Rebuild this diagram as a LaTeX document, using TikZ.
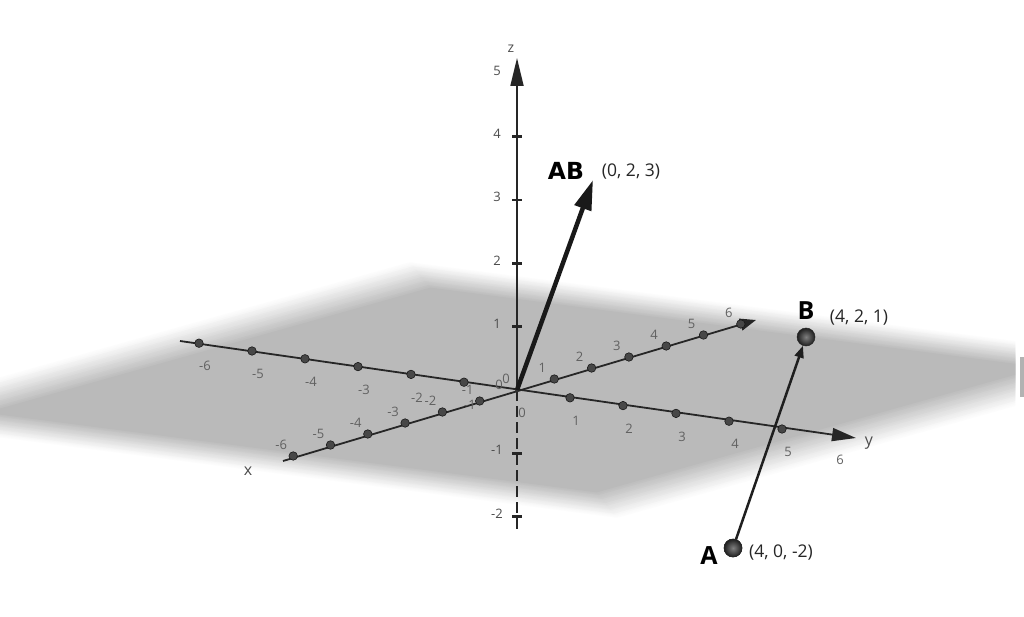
\documentclass[tikz,border=0pt]{standalone}
\usepackage{fontspec}
\setmainfont{Open Sans}
\newfontfamily\djv{DejaVu Sans}
\usetikzlibrary{arrows.meta}
\begin{document}
\begin{tikzpicture}[x=1pt,y=-1pt,
  axisline/.style={line width=1.8pt, black!85},
  tickdot/.style={circle, fill=black!72, draw=black!90, line width=0.6pt, inner sep=0pt, minimum size=8.5pt},
  ticklab/.style={font=\fontsize{13}{13}\selectfont, text=black!62, inner sep=0pt},
  axislab/.style={font=\fontsize{16}{16}\selectfont, text=black!70, inner sep=0pt},
  zticks/.style={line width=2.6pt, black!85},
  ptball/.style={circle, shading=radial, inner color=black!50, outer color=black!88, draw=black!85, line width=0.5pt, inner sep=0pt, minimum size=18pt},
  bigname/.style={font=\fontsize{25}{25}\selectfont\bfseries, inner sep=0pt},
  abname/.style={font=\djv\fontsize{23.5}{23.5}\selectfont\bfseries, inner sep=0pt},
  coordlab/.style={font=\fontsize{17.5}{17.5}\selectfont, text=black!85, inner sep=0pt},
]
\useasboundingbox (0,0) rectangle (1024,617);
\fill[white] (0,0) rectangle (1024,617);

% plane with soft edges
\begin{scope}
  \clip (0,0) rectangle (1015,617);
  \foreach \k in {0,...,19} {
    \pgfmathsetmacro\s{1.11-0.22*\k/19}
    \pgfmathtruncatemacro\c{1+26*\k/19}
    \fill[black!\c, shift={(513.5,390)}, scale=\s]
      (-593.5,25.5) -- (-93.5,-115) -- (593.5,-25.5) -- (93.5,115) -- cycle;
  }
\end{scope}
\fill[black!30] (1020,357) rectangle (1024,397);

% axes
\coordinate (O) at (517,390);
\coordinate (ystart) at (180,341);
\coordinate (yend) at (856,438);
\coordinate (xstart) at (283,461);
\coordinate (xend) at (756,320);
\coordinate (ztop) at (517,58);
\coordinate (zbot) at (517,533);

\draw[axisline, -{Triangle[length=24pt,width=13pt]}] (ystart) -- (yend);
\draw[axisline, -{Triangle[length=16pt,width=12pt]}] (xstart) -- (xend);
\draw[axisline, -{Triangle[length=28pt,width=13pt]}] (O) -- (ztop);
\draw[axisline, dash pattern=on 11pt off 5pt] (O) -- (zbot);

% z ticks and labels
\foreach \k in {-2,-1,1,2,3,4} {
  \pgfmathsetmacro\zy{390-63.3*\k}
  \draw[zticks] (512,\zy) -- (522,\zy);
}
\foreach \k in {-2,-1,1,2,3,4,5} {
  \pgfmathsetmacro\zy{390-63.3*\k}
  \node[ticklab, text=black!70] (zl\k) at (497,\zy-3) {\k};
}

% x ticks
\foreach \i in {-6,...,-1,1,2,3,4,5,6} {
  \pgfmathsetmacro\px{517+37.3*\i}
  \pgfmathsetmacro\py{390-11*\i}
  \node[tickdot] (xt\i) at (\px,\py) {};
  \node[ticklab] (xl\i) at (\px-12,\py-11) {\i};
}
% y ticks
\foreach \i in {-6,...,-1,1,2,3,4,5} {
  \pgfmathsetmacro\px{517+53*\i}
  \pgfmathsetmacro\py{390+7.8*\i}
  \node[tickdot] (yt\i) at (\px,\py) {};
  \node[ticklab] (yl\i) at (\px+6,\py+23) {\i};
}
\node[ticklab] (yl6) at (840,460) {6};
\node[ticklab] (xl0) at (506,379) {0};
\node[ticklab] (yl0) at (522,413) {0};
\node[ticklab] (zl0) at (499,385) {0};

\node[axislab] (xname) at (248,471) {x};
\node[axislab] (yname) at (869,443) {y};
\node[axislab, font=\fontsize{14}{14}\selectfont] (zname) at (511,49) {z};

\node[circle, fill=black!80, inner sep=0pt, minimum size=4pt] (Odot) at (O) {};

% vector AB from origin
\coordinate (ABtip) at (593,180);
\draw[line width=4.5pt, black!90, -{Triangle[length=30pt,width=17pt]}] (O) -- (ABtip);

% points A and B
\node[ptball] (A) at (733,548) {};
\node[ptball] (B) at (806,337) {};
\draw[line width=2.5pt, black!88, -{Triangle[length=12pt,width=9pt]}] (A) -- (B);
\node[ptball] at (A) {};

% labels
\node[abname] (ABname) at (566,171) {AB};
\node[coordlab] (ABcoord) at (631,172) {(0, 2, 3)};
\node[bigname] (Bname) at (806,311) {B};
\node[coordlab] (Bcoord) at (859,318) {(4, 2, 1)};
\node[bigname] (Aname) at (709,556) {A};
\node[coordlab] (Acoord) at (781,553) {(4, 0, -2)};
\end{tikzpicture}
\end{document}
